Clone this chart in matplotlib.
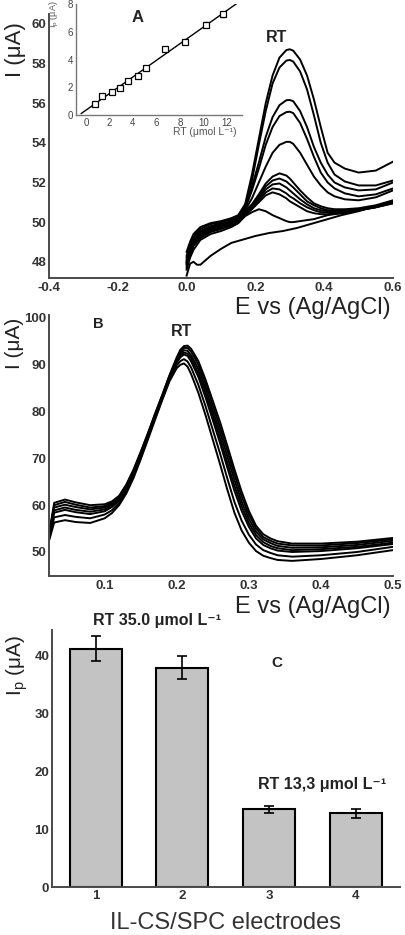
import matplotlib
matplotlib.use("Agg")
import matplotlib.pyplot as plt
import numpy as np

plt.rcParams['font.family'] = ['Liberation Sans', 'DejaVu Sans']
plt.rcParams['mathtext.fontset'] = 'custom'
plt.rcParams['mathtext.rm'] = 'Liberation Sans'

# ---------------- Panel A: DPV curves ----------------
E_A = [0.0, 0.01, 0.02, 0.04, 0.07, 0.10, 0.13, 0.15, 0.17, 0.19, 0.21, 0.23, 0.25, 0.27,
       0.29, 0.30, 0.31, 0.33, 0.35, 0.37, 0.39, 0.41, 0.43, 0.46, 0.50, 0.55, 0.60]
I_A1 = [48.5, 49.0, 49.4, 49.75, 49.95, 50.05, 50.2, 50.35, 50.9, 52.4, 54.2, 56.0, 57.4, 58.3,
        58.68, 58.72, 58.65, 58.2, 57.4, 56.2, 54.8, 53.5, 53.0, 52.7, 52.5, 52.6, 53.05]
I_A2 = [48.3, 48.9, 49.3, 49.65, 49.9, 50.0, 50.15, 50.3, 50.8, 52.1, 53.9, 55.6, 57.0, 57.8,
        58.15, 58.18, 58.1, 57.6, 56.7, 55.4, 54.0, 53.0, 52.4, 52.05, 51.85, 51.85, 52.1]
I_A3 = [48.0, 48.7, 49.2, 49.55, 49.8, 49.95, 50.1, 50.25, 50.7, 51.8, 53.0, 54.3, 55.3, 55.9,
        56.15, 56.16, 56.1, 55.6, 54.8, 53.8, 53.0, 52.4, 52.0, 51.75, 51.6, 51.65, 52.0]
I_A4 = [48.2, 48.8, 49.1, 49.5, 49.75, 49.9, 50.05, 50.2, 50.65, 51.6, 52.7, 53.9, 54.8, 55.35,
        55.55, 55.57, 55.5, 55.0, 54.2, 53.3, 52.5, 52.0, 51.7, 51.45, 51.3, 51.4, 51.7]
I_A5 = [47.9, 48.5, 49.0, 49.4, 49.65, 49.8, 50.0, 50.15, 50.6, 51.2, 52.0, 52.8, 53.5, 53.9,
        54.05, 54.05, 53.95, 53.5, 52.9, 52.3, 51.85, 51.5, 51.3, 51.15, 51.1, 51.25, 51.6]
I_A6 = [48.1, 48.7, 49.1, 49.5, 49.75, 49.85, 50.0, 50.15, 50.55, 50.9, 51.4, 51.95, 52.3, 52.46,
        52.35, 52.2, 52.0, 51.6, 51.25, 50.95, 50.8, 50.7, 50.65, 50.65, 50.7, 50.85, 51.1]
I_A7 = [47.8, 48.4, 48.9, 49.3, 49.6, 49.75, 49.9, 50.1, 50.5, 50.85, 51.3, 51.8, 52.1, 52.2,
        52.05, 51.9, 51.75, 51.4, 51.05, 50.85, 50.7, 50.6, 50.6, 50.6, 50.65, 50.8, 51.05]
I_A8 = [48.0, 48.6, 49.0, 49.4, 49.7, 49.8, 49.95, 50.05, 50.45, 50.8, 51.2, 51.65, 51.9, 51.95,
        51.75, 51.6, 51.45, 51.15, 50.9, 50.7, 50.6, 50.55, 50.55, 50.55, 50.65, 50.8, 51.0]
I_A9 = [47.7, 48.3, 48.8, 49.2, 49.5, 49.65, 49.85, 50.0, 50.4, 50.7, 51.1, 51.5, 51.7, 51.65,
        51.45, 51.3, 51.2, 50.95, 50.75, 50.6, 50.5, 50.5, 50.5, 50.55, 50.6, 50.75, 51.0]
I_A10 = [47.9, 48.5, 48.9, 49.3, 49.55, 49.7, 49.8, 49.95, 50.35, 50.65, 51.0, 51.35, 51.5, 51.4,
         51.2, 51.05, 50.95, 50.75, 50.55, 50.45, 50.4, 50.4, 50.45, 50.5, 50.6, 50.75, 50.95]
I_A11 = [47.6, 48.2, 48.6, 49.1, 49.4, 49.55, 49.75, 49.95, 50.3, 50.5, 50.65, 50.55, 50.35, 50.2,
         50.05, 50.0, 50.0, 50.05, 50.1, 50.15, 50.25, 50.35, 50.4, 50.45, 50.6, 50.75, 50.95]
E_A_base = [0.0, 0.01, 0.02, 0.03, 0.04, 0.05, 0.07, 0.10, 0.13, 0.16, 0.20, 0.24, 0.28, 0.32,
            0.36, 0.40, 0.45, 0.50, 0.55, 0.60]
I_A_base = [47.3, 47.9, 48.0, 47.85, 47.85, 48.0, 48.3, 48.65, 48.95, 49.1, 49.3, 49.45, 49.55, 49.7,
            49.9, 50.1, 50.35, 50.55, 50.8, 51.0]

# Inset calibration
RT_conc = [0.8, 1.4, 2.2, 2.9, 3.6, 4.4, 5.1, 6.7, 8.4, 10.2, 11.7]
Ip_inset = [0.78, 1.35, 1.68, 1.95, 2.42, 2.82, 3.38, 4.78, 5.25, 6.5, 7.25]
Ip_err = [0.1, 0.1, 0.1, 0.1, 0.12, 0.12, 0.12, 0.15, 0.15, 0.18, 0.18]

# ---------------- Panel B: repeated DPV ----------------
E_B = [0.023, 0.03, 0.045, 0.06, 0.08, 0.10, 0.11, 0.12, 0.13, 0.14, 0.15, 0.16, 0.17, 0.18,
       0.19, 0.20, 0.205, 0.21, 0.215, 0.22, 0.23, 0.24, 0.25, 0.26, 0.27, 0.28, 0.29, 0.30,
       0.31, 0.32, 0.33, 0.34, 0.36, 0.40, 0.45, 0.50]
I_B1 = [54.0, 60.5, 61.2, 60.6, 60.0, 60.2, 60.8, 62.0, 64.4, 67.6, 71.4, 75.4, 79.6, 83.6,
        87.8, 91.6, 93.2, 94.0, 94.1, 93.4, 90.8, 86.8, 82.3, 77.8, 72.8, 67.7, 62.9, 58.8,
        55.6, 53.8, 52.9, 52.3, 51.8, 51.8, 52.2, 53.0]
I_B2 = [53.8, 60.0, 60.7, 60.1, 59.5, 59.8, 60.5, 61.8, 64.2, 67.4, 71.2, 75.2, 79.4, 83.5,
        87.6, 91.3, 92.8, 93.6, 93.6, 92.8, 90.0, 85.9, 81.3, 76.7, 71.7, 66.6, 61.9, 58.0,
        55.0, 53.2, 52.4, 51.8, 51.4, 51.4, 51.9, 52.7]
I_B3 = [53.6, 59.5, 60.1, 59.6, 59.1, 59.5, 60.2, 61.5, 63.9, 67.2, 71.0, 75.1, 79.3, 83.3,
        87.5, 91.0, 92.4, 93.1, 93.0, 92.0, 89.1, 84.9, 80.2, 75.6, 70.5, 65.4, 60.8, 57.1,
        54.3, 52.7, 51.9, 51.3, 50.9, 51.0, 51.5, 52.4]
I_B4 = [53.4, 58.9, 59.5, 59.0, 58.6, 59.1, 59.9, 61.2, 63.7, 66.9, 70.8, 74.9, 79.1, 83.2,
        87.3, 90.7, 92.0, 92.6, 92.4, 91.4, 88.2, 83.9, 79.2, 74.4, 69.2, 64.2, 59.8, 56.2,
        53.6, 52.1, 51.3, 50.8, 50.4, 50.6, 51.1, 52.0]
I_B5 = [53.3, 58.4, 59.0, 58.5, 58.1, 58.7, 59.6, 61.0, 63.5, 66.7, 70.6, 74.7, 79.0, 83.1,
        87.2, 90.5, 91.6, 92.2, 91.9, 90.7, 87.4, 83.0, 78.2, 73.3, 68.1, 63.1, 58.8, 55.4,
        52.9, 51.5, 50.8, 50.3, 50.0, 50.2, 50.8, 51.7]
I_B6 = [52.9, 57.4, 57.9, 57.5, 57.2, 58.0, 58.9, 60.5, 63.0, 66.3, 70.2, 74.4, 78.6, 82.8,
        86.8, 89.9, 90.8, 91.2, 90.7, 89.4, 85.7, 81.1, 76.1, 71.1, 65.8, 60.7, 56.7, 53.7,
        51.6, 50.4, 49.8, 49.3, 49.0, 49.3, 50.0, 51.1]
I_B7 = [52.5, 56.3, 56.8, 56.4, 56.2, 57.2, 58.3, 60.0, 62.5, 65.8, 69.8, 74.0, 78.3, 82.5,
        86.5, 89.3, 90.0, 90.3, 89.6, 88.0, 84.0, 79.2, 74.0, 68.8, 63.4, 58.4, 54.6, 52.0,
        50.2, 49.2, 48.7, 48.3, 48.1, 48.5, 49.3, 50.4]

# ---------------- Panel C: bar chart ----------------
electrodes = [1, 2, 3, 4]
Ip_bars = [41.2, 37.9, 13.4, 12.7]
Ip_bar_err = [2.1, 2.0, 0.65, 0.7]

W, H = 406, 935
fig = plt.figure(figsize=(W / 100, H / 100), dpi=100)


def ax_px(l, t, r, b):
    return fig.add_axes([l / W, 1 - b / H, (r - l) / W, (b - t) / H])


def ftext(x, y, s, **kw):
    fig.text(x / W, 1 - y / H, s, **kw)


SPINE = '#4a4a4a'
TICKC = '#333333'


def style(ax, pad=2, size=9.5):
    for s in ['top', 'right']:
        ax.spines[s].set_visible(False)
    for s in ['left', 'bottom']:
        ax.spines[s].set_color(SPINE)
        ax.spines[s].set_linewidth(1.4)
    ax.tick_params(length=0, pad=pad, labelsize=size, colors=TICKC)
    for lab in ax.get_xticklabels() + ax.get_yticklabels():
        lab.set_fontweight('bold')


# Panel A
axA = ax_px(49, 14, 393, 278)
for I in [I_A1, I_A2, I_A3, I_A4, I_A5, I_A6, I_A7, I_A8, I_A9, I_A10, I_A11]:
    axA.plot(E_A, I, color='black', lw=1.4)
axA.plot(E_A_base, I_A_base, color='black', lw=1.4)
axA.set_xlim(-0.394, 0.6)
axA.set_ylim(47.18, 60.5)
axA.set_xticks([-0.4, -0.2, 0.0, 0.2, 0.4, 0.6])
axA.set_xticklabels(['-0.4', '-0.2', '0.0', '0.2', '0.4', '0.6'])
axA.set_yticks([48, 50, 52, 54, 56, 58, 60])
style(axA)
axA.tick_params(axis='x', pad=3)

# Inset
axI = ax_px(76, 4, 242, 115)
axI.errorbar(RT_conc, Ip_inset, yerr=Ip_err, fmt='s', mfc='white', mec='black',
             ms=4.5, mew=0.9, ecolor='black', elinewidth=0.8, capsize=1.5, zorder=3)
coef = np.polyfit(RT_conc, Ip_inset, 1)
xf = np.array([-0.4, 12.8])
axI.plot(xf, np.polyval(coef, xf), color='black', lw=1.0, zorder=2)
axI.set_xlim(-0.85, 13.3)
axI.set_ylim(0, 8)
axI.set_xticks([0, 2, 4, 6, 8, 10, 12])
axI.set_yticks([0, 2, 4, 6, 8])
for s in ['top', 'right']:
    axI.spines[s].set_visible(False)
for s in ['left', 'bottom']:
    axI.spines[s].set_color('#777777')
    axI.spines[s].set_linewidth(1.0)
axI.tick_params(length=0, pad=2, labelsize=7, colors='#444444')
axI.patch.set_alpha(0)
ftext(205, 132, 'RT (μmol L⁻¹)', fontsize=7.5, color='#555555', ha='center', va='center')
ftext(54, 14, r'I$_{\mathregular{p}}$ (μA)', fontsize=6.5, color='#555555', ha='center', va='center',
      rotation=90)

ftext(138, 18, 'A', fontsize=12, fontweight='bold', ha='center', va='center', color='#222222')
ftext(277, 38, 'RT', fontsize=11.5, fontweight='bold', ha='center', va='center', color='#222222')
ftext(15, 50, 'I (μA)', fontsize=16, rotation=90, ha='center', va='center', color='#222222')
ftext(391, 308, 'E vs (Ag/AgCl)', fontsize=17, ha='right', va='center', color='#222222')

# Panel B
axB = ax_px(49, 315, 393, 576)
for I in [I_B7, I_B6, I_B5, I_B4, I_B3, I_B2, I_B1]:
    axB.plot(E_B, I, color='black', lw=1.4)
axB.set_xlim(0.0228, 0.4973)
axB.set_ylim(44.87, 100.64)
axB.set_xticks([0.1, 0.2, 0.3, 0.4, 0.5])
axB.set_yticks([50, 60, 70, 80, 90, 100])
style(axB)
axB.tick_params(axis='x', pad=3)

ftext(98, 324, 'B', fontsize=10.5, fontweight='bold', ha='center', va='center', color='#222222')
ftext(182, 331, 'RT', fontsize=11.5, fontweight='bold', ha='center', va='center', color='#222222')
ftext(15, 343, 'I (μA)', fontsize=15, rotation=90, ha='center', va='center', color='#222222')
ftext(391, 607, 'E vs (Ag/AgCl)', fontsize=17, ha='right', va='center', color='#222222')

# Panel C
axC = ax_px(52, 630, 400, 887)
axC.bar(electrodes, Ip_bars, width=0.6, color='#c3c3c3', edgecolor='black', linewidth=1.5,
        zorder=2)
axC.errorbar(electrodes, Ip_bars, yerr=Ip_bar_err, fmt='none', ecolor='black', elinewidth=1.2,
             capsize=3.5, capthick=1.2, zorder=3)
axC.set_xlim(0.497, 4.51)
axC.set_ylim(0, 44.4)
axC.set_xticks(electrodes)
axC.set_yticks([0, 10, 20, 30, 40])
style(axC)
axC.tick_params(axis='x', pad=2)

ftext(93, 620, 'RT 35.0 μmol L⁻¹', fontsize=11.5, fontweight='bold', ha='left', va='center',
      color='#222222')
ftext(277, 663, 'C', fontsize=11, fontweight='bold', ha='center', va='center', color='#222222')
ftext(258, 785, 'RT 13,3 μmol L⁻¹', fontsize=11.5, fontweight='bold', ha='left', va='center',
      color='#222222')
ftext(17, 665, r'I$_{\mathregular{p}}$ (μA)', fontsize=15, rotation=90, ha='center', va='center',
      color='#222222')
ftext(226, 923, 'IL-CS/SPC electrodes', fontsize=17, ha='center', va='center', color='#333333')

fig.savefig('out.png', dpi=100)
